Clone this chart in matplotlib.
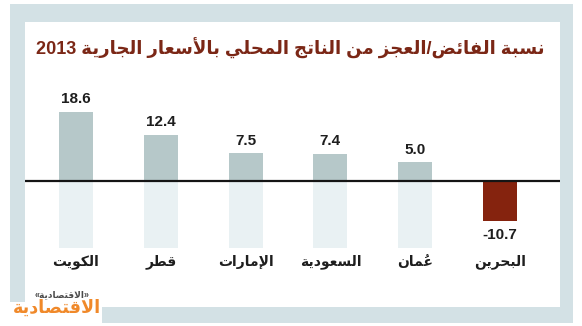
import matplotlib
matplotlib.use('Agg')
import matplotlib.pyplot as plt
from matplotlib.patches import Rectangle

# ---------------- data ----------------
countries = ['الكويت', 'قطر', 'الإمارات', 'السعودية', 'عُمان', 'البحرين']
values = [18.6, 12.4, 7.5, 7.4, 5.0, -10.7]
value_labels = ['18.6', '12.4', '7.5', '7.4', '5.0', '-10.7']
title = 'نسبة الفائض/العجز من الناتج المحلي بالأسعار الجارية 2013'
logo = 'الاقتصادية'
logo_small = '«الاقتصادية»'

# ---------------- minimal Arabic shaping ----------------
_F = {  # iso, fin, ini, med
    'ء': (0xFE80, None, None, None),
    'آ': (0xFE81, 0xFE82, None, None), 'أ': (0xFE83, 0xFE84, None, None),
    'ؤ': (0xFE85, 0xFE86, None, None), 'إ': (0xFE87, 0xFE88, None, None),
    'ئ': (0xFE89, 0xFE8A, 0xFE8B, 0xFE8C), 'ا': (0xFE8D, 0xFE8E, None, None),
    'ب': (0xFE8F, 0xFE90, 0xFE91, 0xFE92), 'ة': (0xFE93, 0xFE94, None, None),
    'ت': (0xFE95, 0xFE96, 0xFE97, 0xFE98), 'ث': (0xFE99, 0xFE9A, 0xFE9B, 0xFE9C),
    'ج': (0xFE9D, 0xFE9E, 0xFE9F, 0xFEA0), 'ح': (0xFEA1, 0xFEA2, 0xFEA3, 0xFEA4),
    'خ': (0xFEA5, 0xFEA6, 0xFEA7, 0xFEA8), 'د': (0xFEA9, 0xFEAA, None, None),
    'ذ': (0xFEAB, 0xFEAC, None, None), 'ر': (0xFEAD, 0xFEAE, None, None),
    'ز': (0xFEAF, 0xFEB0, None, None), 'س': (0xFEB1, 0xFEB2, 0xFEB3, 0xFEB4),
    'ش': (0xFEB5, 0xFEB6, 0xFEB7, 0xFEB8), 'ص': (0xFEB9, 0xFEBA, 0xFEBB, 0xFEBC),
    'ض': (0xFEBD, 0xFEBE, 0xFEBF, 0xFEC0), 'ط': (0xFEC1, 0xFEC2, 0xFEC3, 0xFEC4),
    'ظ': (0xFEC5, 0xFEC6, 0xFEC7, 0xFEC8), 'ع': (0xFEC9, 0xFECA, 0xFECB, 0xFECC),
    'غ': (0xFECD, 0xFECE, 0xFECF, 0xFED0), 'ف': (0xFED1, 0xFED2, 0xFED3, 0xFED4),
    'ق': (0xFED5, 0xFED6, 0xFED7, 0xFED8), 'ك': (0xFED9, 0xFEDA, 0xFEDB, 0xFEDC),
    'ل': (0xFEDD, 0xFEDE, 0xFEDF, 0xFEE0), 'م': (0xFEE1, 0xFEE2, 0xFEE3, 0xFEE4),
    'ن': (0xFEE5, 0xFEE6, 0xFEE7, 0xFEE8), 'ه': (0xFEE9, 0xFEEA, 0xFEEB, 0xFEEC),
    'و': (0xFEED, 0xFEEE, None, None), 'ى': (0xFEEF, 0xFEF0, None, None),
    'ي': (0xFEF1, 0xFEF2, 0xFEF3, 0xFEF4),
}
_LAMALEF = {'آ': (0xFEF5, 0xFEF6), 'أ': (0xFEF7, 0xFEF8),
            'إ': (0xFEF9, 0xFEFA), 'ا': (0xFEFB, 0xFEFC)}


def _is_mark(c):
    return 0x064B <= ord(c) <= 0x0652


def _dual(c):
    return c in _F and _F[c][2] is not None


def _joins(c):
    return c in _F and _F[c][1] is not None


def shape(text):
    chars = list(text)
    n = len(chars)
    out = []
    i = 0
    while i < n:
        c = chars[i]
        if c not in _F:
            out.append(c)
            i += 1
            continue
        j = i - 1
        while j >= 0 and _is_mark(chars[j]):
            j -= 1
        p = chars[j] if j >= 0 else None
        k = i + 1
        while k < n and _is_mark(chars[k]):
            k += 1
        nx = chars[k] if k < n else None
        cp = p is not None and _dual(p) and _joins(c)
        if c == 'ل' and nx in _LAMALEF:
            out.append(chr(_LAMALEF[nx][1] if cp else _LAMALEF[nx][0]))
            out.extend(chars[i + 1:k])
            i = k + 1
            continue
        cn = _dual(c) and nx is not None and _joins(nx)
        iso, fin, ini, med = _F[c]
        if cp and cn:
            f = med
        elif cp:
            f = fin
        elif cn:
            f = ini
        else:
            f = iso
        out.append(chr(f))
        i += 1
    # clusters: mark placed before its base so that it overlays the base
    clusters = []
    for c in out:
        if _is_mark(c) and clusters:
            clusters[-1] = c + clusters[-1]
        else:
            clusters.append(c)
    tokens = []
    for cl in clusters:
        ltr = cl[0].isdigit() or cl[0] in '.'
        if tokens and tokens[-1][0] and ltr:
            tokens[-1][1].append(cl)
        else:
            tokens.append([ltr, [cl]])
    vis = []
    for ltr, cls in reversed(tokens):
        if ltr:
            vis.extend(cls)
        else:
            vis.extend(reversed(cls))
    s = ''.join(vis)
    s = s.replace('«', '\0').replace('»', '«').replace('\0', '»')
    return s


# ---------------- figure ----------------
W, H = 582, 326
fig = plt.figure(figsize=(W / 100, H / 100), dpi=100)
fig.patch.set_facecolor('white')

FRAME = '#d3e1e5'
TITLE_C = '#7b2716'
FAM = ['Liberation Sans', 'DejaVu Sans']


def px(x0, y0, x1, y1):
    return (x0 / W, 1 - y1 / H), (x1 - x0) / W, (y1 - y0) / H


for box, col in [((10, 4, 573, 323), FRAME), ((25, 22, 560, 307), 'white'),
                 ((10, 302, 102, 323), 'white')]:
    xy, w, h = px(*box)
    fig.patches.append(Rectangle(xy, w, h, transform=fig.transFigure,
                                 facecolor=col, edgecolor='none', zorder=-5))

ax_l, ax_r, ax_t, ax_b = 25, 560, 22, 307
ax = fig.add_axes([ax_l / W, 1 - ax_b / H, (ax_r - ax_l) / W, (ax_b - ax_t) / H])
ax.set_zorder(2)
ax.set_facecolor('none')
ax.patch.set_alpha(0)
for s in ax.spines.values():
    s.set_visible(False)
ax.set_xticks([])
ax.set_yticks([])

spacing = 84.8
pxu = 3.71
x0c = 76
ax.set_xlim(-(x0c - ax_l) / spacing, (ax_r - x0c) / spacing)
ax.set_ylim(-(ax_b - 181) / pxu, (181 - ax_t) / pxu)

xs = list(range(len(values)))
bw = 34 / spacing
pale = [-18.06 if v > 0 else 0 for v in values]
ax.bar(xs, pale, width=bw, color='#e9f1f3', zorder=1)
colors = ['#b6c8c9' if v > 0 else '#85230e' for v in values]
ax.bar(xs, values, width=bw, color=colors, zorder=2)
ax.axhline(0, color='#151515', lw=1.6, zorder=3)

for x, v, lab in zip(xs, values, value_labels):
    if v > 0:
        ax.annotate(lab, (x, v), xytext=(0, 4), textcoords='offset points',
                    ha='center', va='bottom', fontsize=11, fontweight='bold',
                    color='#1e1e1e', family=FAM)
    else:
        ax.annotate(lab, (x, v), xytext=(0, -5), textcoords='offset points',
                    ha='center', va='top', fontsize=11, fontweight='bold',
                    color='#1e1e1e', family=FAM)

for x, c in zip(xs, countries):
    ax.text(x, -(262 - 181) / pxu, shape(c), ha='center', va='center',
            fontsize=10, fontweight='bold', color='#1e1e1e', family=FAM)

# title, fitted to width
t = fig.text(545 / W, 1 - 48 / H, shape(title), ha='right', va='center',
             fontsize=15, fontweight='bold', color=TITLE_C, family=FAM)
fig.canvas.draw()
r = fig.canvas.get_renderer()
bb = t.get_window_extent(r)
t.set_fontsize(15 * 509 / bb.width)

# logo
lg = fig.text(57 / W, 1 - 308 / H, shape(logo), ha='center', va='center',
              fontsize=16, fontweight='bold', color='#f0892a', family=FAM)
bb = lg.get_window_extent(r)
lg.set_fontsize(16 * 88 / bb.width)
fig.text(62 / W, 1 - 295 / H, shape(logo_small), ha='center', va='center',
         fontsize=6.5, fontweight='bold', color='#4a4a4a', family=FAM)

fig.savefig('out.png', dpi=100, facecolor='white')
